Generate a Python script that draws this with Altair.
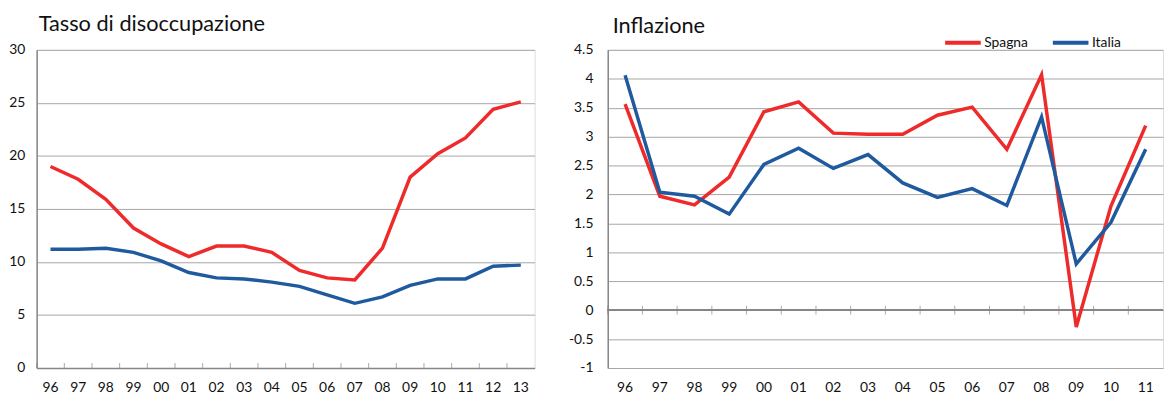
import altair as alt
import pandas as pd

# --- data ---------------------------------------------------------------
anni_disocc = ["96", "97", "98", "99", "00", "01", "02", "03", "04", "05",
               "06", "07", "08", "09", "10", "11", "12", "13"]
spagna_disocc = [19.0, 17.8, 15.9, 13.2, 11.7, 10.5, 11.5, 11.5, 10.9, 9.2,
                 8.5, 8.3, 11.3, 18.0, 20.2, 21.7, 24.4, 25.1]
italia_disocc = [11.2, 11.2, 11.3, 10.9, 10.1, 9.0, 8.5, 8.4, 8.1, 7.7,
                 6.9, 6.1, 6.7, 7.8, 8.4, 8.4, 9.6, 9.7]

anni_infl = ["96", "97", "98", "99", "00", "01", "02", "03", "04", "05",
             "06", "07", "08", "09", "10", "11"]
spagna_infl = [3.56, 1.97, 1.82, 2.30, 3.43, 3.60, 3.06, 3.04, 3.04, 3.37,
               3.51, 2.78, 4.07, -0.29, 1.80, 3.19]
italia_infl = [4.06, 2.04, 1.97, 1.66, 2.52, 2.80, 2.45, 2.69, 2.20, 1.95,
               2.10, 1.81, 3.34, 0.80, 1.52, 2.78]

paesi = ["Spagna", "Italia"]
colori = ["#EE2A2A", "#1F5A9E"]

tick_disocc = [0, 5, 10, 15, 20, 25, 30]
tick_infl = [-1, -0.5, 0, 0.5, 1, 1.5, 2, 2.5, 3, 3.5, 4, 4.5]

df_u = pd.DataFrame({
    "anno": anni_disocc * 2,
    "valore": spagna_disocc + italia_disocc,
    "paese": ["Spagna"] * len(anni_disocc) + ["Italia"] * len(anni_disocc),
})
df_i = pd.DataFrame({
    "anno": anni_infl * 2,
    "valore": spagna_infl + italia_infl,
    "paese": ["Spagna"] * len(anni_infl) + ["Italia"] * len(anni_infl),
})
df_cat_u = pd.DataFrame({"anno": anni_disocc})
df_cat_i = pd.DataFrame({"anno": anni_infl})

FONT = "Lato"
GRID = "#A6A6A6"
AXIS = "#868686"
TXT = "#111111"
LBL = 14
W1, W2, H = 504, 562, 322

col_scale = alt.Scale(domain=paesi, range=colori)


def x_axis(domain):
    return alt.Axis(title=None, orient="bottom", domain=domain, domainColor=AXIS,
                    domainWidth=1.5, ticks=False, tickSize=0, labelPadding=13,
                    labelAngle=0, labelFontSize=LBL, labelFont=FONT, labelColor=TXT)


def y_axis(values, expr=None, pad=12):
    kw = dict(title=None, values=values, grid=True, gridColor=GRID, domain=True,
              domainColor=AXIS, domainWidth=1.5, ticks=False, tickSize=0,
              labelPadding=pad, labelFontSize=LBL, labelFont=FONT, labelColor=TXT)
    if expr:
        kw["labelExpr"] = expr
    return alt.Axis(**kw)


# ---------------- left panel: unemployment ------------------------------
xs_u = alt.Scale(type="band", domain=anni_disocc, paddingInner=0, paddingOuter=0)
ys_u = alt.Scale(domain=[0, 30], nice=False)
ax_xu = x_axis(True)
ax_yu = y_axis(tick_disocc)

lines_u = alt.Chart(df_u).mark_line(strokeWidth=3.5).encode(
    x=alt.X("anno:N", scale=xs_u, sort=anni_disocc, axis=ax_xu),
    y=alt.Y("valore:Q", scale=ys_u, axis=ax_yu),
    color=alt.Color("paese:N", scale=col_scale, legend=None),
    detail="paese:N",
)

# category separators on the x axis (pointing up into the plot)
ticks_u = alt.Chart(df_cat_u).mark_tick(orient="vertical", size=5, thickness=1,
                                        color=AXIS, yOffset=-2.5).encode(
    x=alt.X("anno:N", scale=xs_u, sort=anni_disocc, axis=ax_xu, bandPosition=0),
    y=alt.Y(datum=0, scale=ys_u, axis=ax_yu),
)

left = alt.layer(lines_u, ticks_u).properties(
    width=W1, height=H,
    title=alt.TitleParams("Tasso di disoccupazione", anchor="start", frame="group",
                          dx=2, offset=7, fontSize=22, font=FONT, fontWeight="normal",
                          color=TXT),
)

# ---------------- right panel: inflation --------------------------------
xs_i = alt.Scale(type="band", domain=anni_infl, paddingInner=0, paddingOuter=0)
ys_i = alt.Scale(domain=[-1, 4.5], nice=False)
ax_xi = x_axis(False)
ax_yi = y_axis(tick_infl, "'' + datum.value", pad=15)

zero_i = alt.Chart(df_cat_i).mark_rule(color=AXIS, strokeWidth=1.5).encode(
    y=alt.Y(datum=0, scale=ys_i, axis=ax_yi),
)

# category separators crossing the zero line
ticks_i = alt.Chart(df_cat_i).mark_tick(orient="vertical", size=9, thickness=1,
                                        color=AXIS).encode(
    x=alt.X("anno:N", scale=xs_i, sort=anni_infl, axis=ax_xi, bandPosition=0),
    y=alt.Y(datum=0, scale=ys_i, axis=ax_yi),
)

lines_i = alt.Chart(df_i).mark_line(strokeWidth=3.5).encode(
    x=alt.X("anno:N", scale=xs_i, sort=anni_infl, axis=ax_xi),
    y=alt.Y("valore:Q", scale=ys_i, axis=ax_yi),
    color=alt.Color("paese:N", scale=col_scale, sort=paesi,
                    legend=alt.Legend(title=None, orient="none", direction="horizontal",
                                      legendX=339, legendY=-28, symbolType="stroke",
                                      symbolSize=1300, symbolStrokeWidth=4,
                                      labelFontSize=LBL, labelFont=FONT, labelColor=TXT,
                                      labelOffset=1, columnPadding=16)),
    detail="paese:N",
)

right = alt.layer(zero_i, ticks_i, lines_i).properties(
    width=W2, height=H,
    title=alt.TitleParams("Inflazione", anchor="start", frame="group",
                          dx=5, offset=-16, fontSize=22, font=FONT,
                          fontWeight="normal", color=TXT),
)

chart = alt.hconcat(left, right, spacing=32).resolve_legend(color="independent").properties(
    padding={"top": 2, "left": 0, "right": 0, "bottom": 0}
).configure_view(stroke=None).configure(font=FONT)

chart.save("out.html", embed_options={"renderer": "svg", "actions": False})
